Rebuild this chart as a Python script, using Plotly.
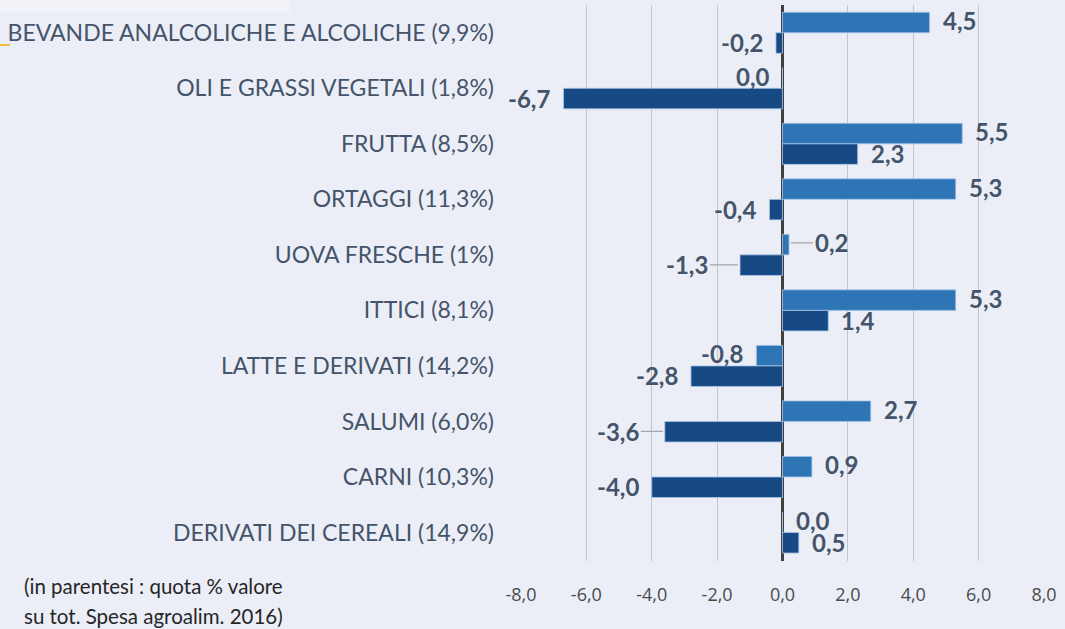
import plotly.graph_objects as go

categories = [
    "BEVANDE ANALCOLICHE E ALCOLICHE (9,9%)",
    "OLI E GRASSI VEGETALI (1,8%)",
    "FRUTTA (8,5%)",
    "ORTAGGI (11,3%)",
    "UOVA FRESCHE (1%)",
    "ITTICI (8,1%)",
    "LATTE E DERIVATI (14,2%)",
    "SALUMI (6,0%)",
    "CARNI (10,3%)",
    "DERIVATI DEI CEREALI (14,9%)",
]
series_light = [4.5, 0.0, 5.5, 5.3, 0.2, 5.3, -0.8, 2.7, 0.9, 0.0]
series_dark = [-0.2, -6.7, 2.3, -0.4, -1.3, 1.4, -2.8, -3.6, -4.0, 0.5]
tick_values = [-8, -6, -4, -2, 0, 2, 4, 6, 8]
tick_labels = ["-8,0", "-6,0", "-4,0", "-2,0", "0,0", "2,0", "4,0", "6,0", "8,0"]
note_lines = ["(in parentesi : quota % valore", "su tot. Spesa agroalim. 2016)"]

LIGHT = "#2E75B6"
DARK = "#174A84"
BG = "#ECEEF7"
LABEL = "#44546A"

W, H = 1065, 629
ML, MR, MT, MB = 521, 21, 5, 68
PW, PH = W - ML - MR, H - MT - MB


def px_x(x):
    return (x - ML) / PW


def px_y(y):
    return (H - MB - y) / PH


def fmt(v):
    return f"{v:.1f}".replace(".", ",")


# labels joined to their bars by a short leader line: (category index, series 0=light/1=dark) -> offset px
leaders = {(4, 0): 24, (4, 1): 30, (7, 1): 24}

fig = go.Figure()
fig.add_trace(go.Bar(y=categories, x=series_light, orientation="h",
                     marker=dict(color=LIGHT, line=dict(color="#A9C6E8", width=0.8)),
                     hoverinfo="x+y", name="light"))
fig.add_trace(go.Bar(y=categories, x=series_dark, orientation="h",
                     marker=dict(color=DARK, line=dict(color="#A9C6E8", width=0.8)),
                     hoverinfo="x+y", name="dark"))

annotations = []
for i, (cat, a, b) in enumerate(zip(categories, series_light, series_dark)):
    for s, (v, other, ys) in enumerate(((a, b, 12), (b, a, -10))):
        sign = v if v != 0 else other
        right = sign >= 0
        font = dict(family="Lato", size=24, color=LABEL, weight="bold")
        if (i, s) in leaders:
            off = leaders[(i, s)]
            annotations.append(dict(
                x=v, y=cat, xref="x", yref="y", text=fmt(v), showarrow=True,
                arrowhead=0, arrowwidth=1.2, arrowcolor="#A6A6A6", standoff=2,
                ax=off if right else -off, ay=0,
                xanchor="left" if right else "right", yshift=ys, font=font,
            ))
        else:
            annotations.append(dict(
                x=v, y=cat, xref="x", yref="y", text=fmt(v), showarrow=False,
                xanchor="left" if right else "right", xshift=11 if right else -11,
                yshift=ys, font=font,
            ))

for k, line in enumerate(note_lines):
    annotations.append(dict(
        x=px_x(22), y=px_y(586 + 30 * k), xref="paper", yref="paper", text=line,
        showarrow=False, align="left", xanchor="left", yanchor="middle",
        font=dict(family="Lato", size=20.5, color="#262626"),
    ))

fig.update_layout(
    width=W, height=H,
    margin=dict(l=ML, r=MR, t=MT, b=MB),
    paper_bgcolor=BG, plot_bgcolor=BG,
    barmode="group", bargap=0.26, bargroupgap=0,
    showlegend=False,
    annotations=annotations,
    xaxis=dict(range=[-8, 8], tickvals=tick_values, ticktext=tick_labels,
               showgrid=True, gridcolor="#C3C4CC", gridwidth=1,
               zeroline=True, zerolinecolor="#404040", zerolinewidth=3,
               ticks="", ticklabelstandoff=21,
               tickfont=dict(family="Open Sans", size=18, color="#4A4A4A"),
               showline=False, fixedrange=True),
    yaxis=dict(autorange="reversed", showgrid=False, ticks="",
               ticklabelstandoff=26,
               tickfont=dict(family="Lato", size=23, color=LABEL),
               fixedrange=True),
)

fig.add_shape(type="rect", xref="paper", yref="paper", layer="below",
              x0=px_x(0), x1=px_x(290), y0=px_y(12), y1=px_y(0),
              fillcolor="#F1F3F9", line=dict(width=0))
fig.add_shape(type="line", xref="paper", yref="paper",
              x0=px_x(0), x1=px_x(10), y0=px_y(45), y1=px_y(45),
              line=dict(color="#F0B400", width=1.5))

fig.write_html("out.html", config={"displayModeBar": False},
               post_script="document.body.style.margin='0';")
